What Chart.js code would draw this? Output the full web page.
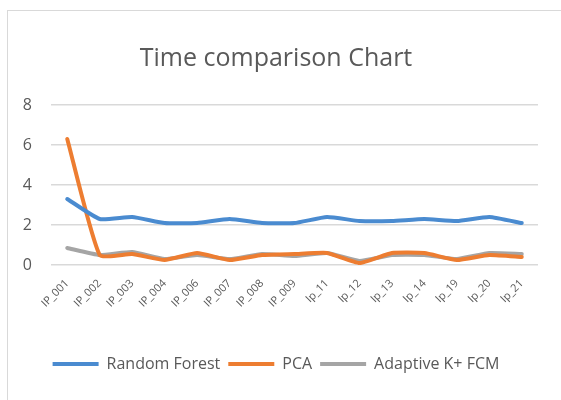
<!DOCTYPE html>
<html><head><meta charset="utf-8">
<script src="https://cdn.jsdelivr.net/npm/chart.js@4"></script>
<style>
html,body{margin:0;padding:0;background:#fff;}
#wrap{position:relative;width:561px;height:400px;overflow:hidden;}
#frame{position:absolute;left:7px;top:10px;width:600px;height:420px;border:1px solid #d9d9d9;box-sizing:border-box;}
canvas{position:absolute;left:0;top:0;}
</style></head><body>
<div id="wrap"><div id="frame"></div><canvas id="c" width="561" height="400"></canvas></div>
<script>
const categories = ["IP_001","IP_002","IP_003","IP_004","IP_006","IP_007","IP_008","IP_009","Ip_11","Ip_12","Ip_13","Ip_14","Ip_19","Ip_20","Ip_21"];
const randomForest = [3.3,2.3,2.4,2.1,2.1,2.3,2.1,2.1,2.4,2.2,2.2,2.3,2.2,2.4,2.1];
const pca = [6.3,0.5,0.55,0.25,0.6,0.25,0.5,0.55,0.6,0.1,0.6,0.6,0.25,0.5,0.4];
const adaptive = [0.85,0.5,0.65,0.3,0.5,0.3,0.55,0.45,0.6,0.2,0.5,0.5,0.3,0.6,0.55];
const yTicks = [0,2,4,6,8];

const FONT = "'Open Sans', sans-serif";
const TXT = '#595959';
function ds(label, data, color){
  return {label, data, borderColor: color, backgroundColor: color, borderWidth: 4,
    pointRadius: 0, tension: 0.15, fill: false, borderJoinStyle: 'round', borderCapStyle: 'round'};
}
new Chart(document.getElementById('c'), {
  type: 'line',
  data: { labels: categories, datasets: [
    ds('Random Forest', randomForest, '#4a8bd0'),
    ds('PCA', pca, '#ed7d31'),
    ds('Adaptive K+ FCM', adaptive, '#a5a5a5')
  ]},
  options: {
    responsive: false, animation: false,
    layout: { padding: { left: 14, right: 23, top: 0, bottom: 18 } },
    plugins: {
      title: { display: true, text: 'Time comparison Chart', color: TXT,
        font: { family: FONT, size: 25, weight: 'normal' }, padding: { top: 44, bottom: 31 } },
      legend: { position: 'bottom', labels: {
        color: TXT, font: { family: FONT, size: 16 }, boxWidth: 46, boxHeight: 4, padding: 8,
        generateLabels(chart){
          return chart.data.datasets.map((d,i)=>({text: d.label, fillStyle: d.borderColor, strokeStyle: d.borderColor,
            lineWidth: 0, hidden: false, datasetIndex: i, fontColor: TXT}));
        }
      }},
      tooltip: { enabled: false }
    },
    scales: {
      x: { offset: true, grid: { display: false }, border: { display: false },
        ticks: { color: TXT, font: { family: FONT, size: 11 }, minRotation: 45, maxRotation: 45, autoSkip: false, padding: 4 },
        afterFit(s){ s.height = 83; } },
      y: { min: 0, max: 8, afterBuildTicks(s){ s.ticks = yTicks.map(v=>({value:v})); },
        grid: { color: '#d9d9d9', lineWidth: 1.5, drawTicks: false }, border: { display: false },
        ticks: { color: TXT, font: { family: FONT, size: 16 }, padding: 19 },
        afterFit(s){ s.width = 37; } }
    }
  }
});
</script>
</body></html>
